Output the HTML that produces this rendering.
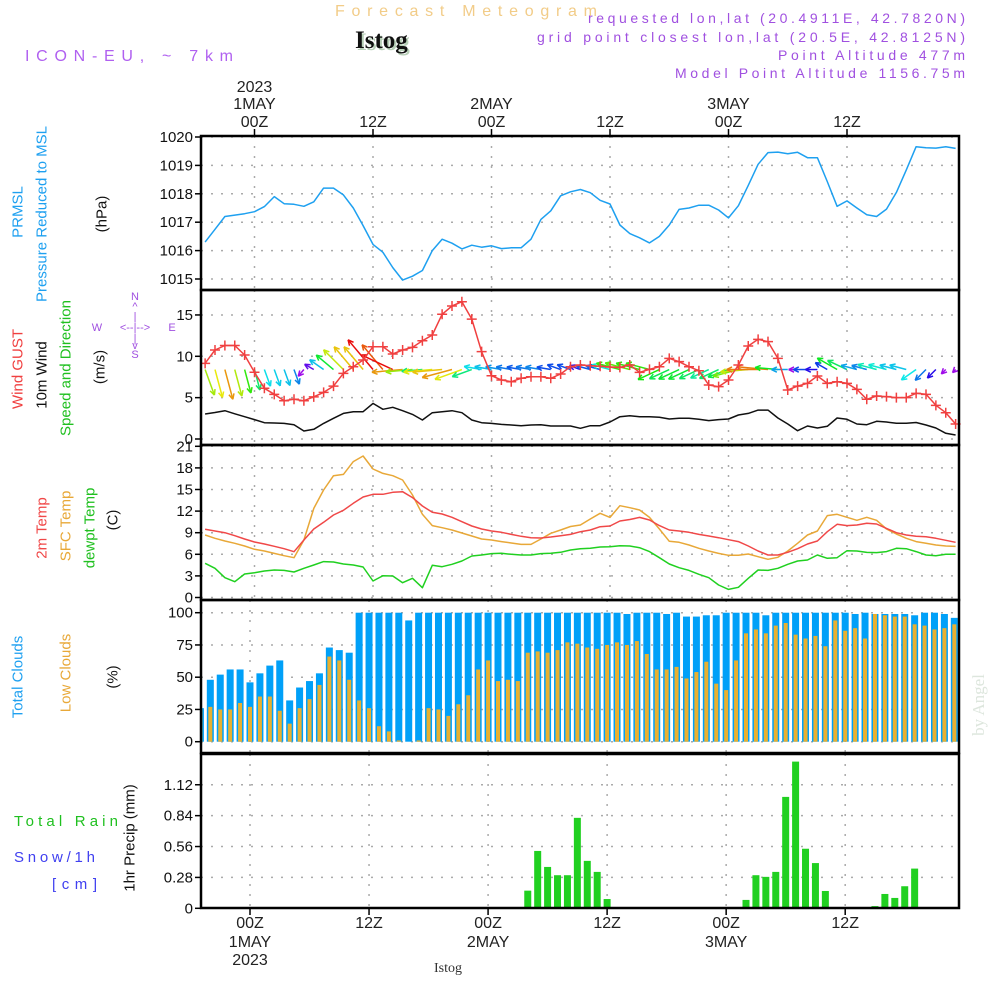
<!DOCTYPE html>
<html><head><meta charset="utf-8"><title>Forecast Meteogram Istog</title>
<style>
html,body{margin:0;padding:0;background:#fff;}
svg{display:block;font-family:"Liberation Sans",sans-serif;}
</style></head>
<body>
<svg id="chart" width="1000" height="1000" viewBox="0 0 1000 1000" xmlns="http://www.w3.org/2000/svg">
<rect x="0" y="0" width="1000" height="1000" fill="#fff"/>
<g id="header">
<text x="335" y="16" textLength="262" lengthAdjust="spacing" font-size="16" fill="#f2cc88">Forecast Meteogram</text>
<text x="357" y="50" font-family="Liberation Serif,serif" font-weight="bold" font-size="25" fill="#b8d0b8">Istog</text>
<text x="355" y="48" font-family="Liberation Serif,serif" font-weight="bold" font-size="25" fill="#111">Istog</text>
<text x="25" y="61" textLength="208" lengthAdjust="spacing" font-size="16" fill="#b060f0">ICON-EU, ~ 7km</text>
<text x="965" y="23" text-anchor="end" textLength="377" lengthAdjust="spacing" font-size="14" fill="#a050e0">requested lon,lat (20.4911E, 42.7820N)</text>
<text x="965" y="42" text-anchor="end" textLength="428" lengthAdjust="spacing" font-size="14" fill="#a050e0">grid point closest lon,lat (20.5E, 42.8125N)</text>
<text x="965" y="60" text-anchor="end" textLength="187" lengthAdjust="spacing" font-size="14" fill="#a050e0">Point Altitude 477m</text>
<text x="965" y="78" text-anchor="end" textLength="290" lengthAdjust="spacing" font-size="14" fill="#a050e0">Model Point Altitude 1156.75m</text>
</g>
<g id="grid"></g>
<g id="marks"></g>
<g id="frames"></g>
<g id="labels"></g>
</svg>
<script>
// ---- data (hour -5 .. 71 relative to 2023-05-01 00Z) ----
const hourStart = -5;
const pressure = [1016.3,1016.75,1017.2,1017.25,1017.3,1017.37,1017.55,1017.9,1017.65,1017.63,1017.56,1017.72,1018.2,1018.2,1017.96,1017.5,1016.88,1016.22,1015.94,1015.4,1014.96,1015.1,1015.3,1016.0,1016.4,1016.26,1016.06,1016.19,1016.12,1016.17,1016.07,1016.1,1016.1,1016.4,1017.1,1017.4,1017.93,1018.07,1018.15,1018.04,1017.77,1017.64,1016.9,1016.6,1016.45,1016.27,1016.5,1016.9,1017.45,1017.5,1017.6,1017.6,1017.43,1017.15,1017.58,1018.3,1019.04,1019.45,1019.47,1019.41,1019.46,1019.27,1019.27,1018.43,1017.56,1017.75,1017.5,1017.26,1017.2,1017.46,1018.05,1018.84,1019.66,1019.62,1019.61,1019.66,1019.6];
const windGust = [9.15,10.76,11.3,11.3,10.16,8.07,6.13,5.4,4.63,4.8,4.63,5.1,5.64,6.4,7.94,8.74,9.55,11.16,11.16,10.28,10.76,11.08,11.88,12.58,15.08,16.08,16.6,14.5,10.56,7.65,7.13,6.93,7.34,7.53,7.53,7.34,7.86,8.74,8.95,8.86,8.8,8.7,8.66,8.95,8.06,8.42,8.74,9.75,9.35,8.74,8.26,6.53,6.33,7.13,8.95,11.25,12.05,11.77,9.75,5.93,6.4,6.73,7.62,6.73,6.93,6.73,6.0,4.8,5.2,5.12,5.0,5.0,5.52,5.4,4.07,3.18,1.81];
const windSpeed = [3.02,3.2,3.42,3.05,2.7,2.35,1.97,1.93,1.89,1.73,0.97,1.17,1.89,2.5,3.1,3.3,3.3,4.31,3.59,3.83,3.42,2.98,2.3,3.18,3.3,3.42,3.18,2.3,1.97,1.89,1.77,1.69,1.61,1.69,1.73,1.57,1.57,1.57,1.29,1.61,1.61,2.06,2.7,2.82,2.7,2.7,2.62,2.42,2.5,2.5,2.38,2.22,2.34,2.42,2.9,3.1,3.5,3.5,2.54,1.81,1.0,1.57,1.33,1.53,2.54,2.38,1.81,1.73,2.14,2.06,1.9,1.9,2.0,1.69,1.33,0.69,0.48];
const windDir = [160,165,165,165,165,165,160,160,160,160,220,300,305,310,315,320,320,320,320,295,265,265,265,265,265,255,250,250,280,280,280,280,280,280,280,280,290,290,290,285,285,285,285,285,285,285,245,245,245,245,245,245,245,250,255,265,270,275,275,270,270,270,270,300,300,295,285,285,285,285,285,285,235,225,225,225,225];
const temp2m = [9.47,9.24,9.0,8.58,8.12,7.71,7.43,7.11,6.78,6.36,7.99,9.51,10.44,11.46,12.11,13.08,13.96,14.33,14.33,14.61,14.7,13.87,12.71,11.83,11.6,11.14,10.53,9.93,9.51,9.24,9.05,8.77,8.5,8.31,8.26,8.4,8.58,8.77,9.14,9.38,9.84,9.93,10.63,10.83,11.12,10.77,9.98,9.38,9.24,9.05,8.77,8.54,8.31,8.03,7.76,7.15,6.46,5.9,5.9,6.28,6.78,7.43,7.85,9.14,10.16,9.98,10.07,10.3,10.21,9.6,9.0,8.68,8.5,8.45,8.22,7.94,7.66];
const tempSfc = [8.68,8.22,7.85,7.53,7.15,6.69,6.46,6.13,5.81,5.53,7.99,12.38,14.93,16.92,17.1,18.87,19.65,17.85,17.24,16.92,16.32,14.24,11.55,9.98,9.7,9.38,8.96,8.54,8.12,7.99,7.76,7.57,7.38,7.38,8.12,8.91,9.38,9.86,10.07,10.9,11.69,11.12,12.75,12.47,12.15,11.12,9.51,7.8,7.66,7.29,6.83,6.46,6.13,5.86,5.86,6.04,5.67,5.3,5.58,6.46,7.53,8.68,9.24,11.37,11.55,11.14,10.72,11.14,10.72,9.51,8.82,8.22,7.76,7.53,7.29,7.15,7.1];
const tempDew = [4.75,4.05,2.75,2.2,3.26,3.45,3.68,3.82,3.77,3.54,4.05,4.51,4.98,4.93,4.65,4.51,4.24,2.29,3.03,2.99,2.06,2.66,1.36,4.47,4.28,4.61,5.07,5.76,5.9,6.1,6.14,6.0,5.9,5.9,6.1,6.14,6.28,6.6,6.78,6.83,7.01,7.06,7.2,7.15,6.92,6.37,5.53,4.65,4.14,3.77,3.22,2.75,1.74,1.13,1.41,2.66,3.82,3.77,4.05,4.61,5.07,5.21,5.9,5.44,5.53,6.5,6.46,6.27,6.23,6.37,6.83,6.78,6.37,5.9,5.81,6.0,6.0];
const totalClouds = [26,48,52,56,56,46,53,59,63,32,42,47,53,73,71,69,100,100,100,100,100,94,100,100,100,100,100,100,100,100,100,100,100,100,100,100,100,100,100,100,100,100,100,99,100,100,100,99,100,97,97,98,98,100,100,100,100,98,100,100,100,100,100,100,100,100,99,100,99,99,99,99,98,100,100,99,96];
const lowClouds = [25,27,25,25,30,27,35,35,24,14,26,33,44,66,63,48,32,26,12,8,1,0,1,26,25,20,29,36,56,63,47,48,47,69,70,69,71,77,76,73,72,75,77,75,78,68,56,56,58,49,54,62,45,40,63,84,87,84,90,92,83,80,82,74,94,86,88,80,99,98,97,97,91,90,87,88,91];
const precip = [0,0,0,0,0,0,0,0,0,0,0,0,0,0,0,0,0,0,0,0,0,0,0,0,0,0,0,0,0,0,0,0,0,0.16,0.52,0.375,0.30,0.30,0.82,0.43,0.33,0.084,0,0,0,0,0,0,0,0,0,0,0,0.01,0,0.076,0.30,0.285,0.33,1.01,1.33,0.54,0.41,0.157,0,0,0,0,0.02,0.13,0.094,0.2,0.36,0,0,0,0];
const pressTicks = [1020,1019,1018,1017,1016,1015];
const windTicks = [15,10,5,0];
const tempTicks = [21,18,15,12,9,6,3,0];
const cloudTicks = [100,75,50,25,0];
const precipTicks = [1.12,0.84,0.56,0.28,0];
const timeTicks = [0,12,24,36,48,60];
const timeTickLabels = ["00Z","12Z","00Z","12Z","00Z","12Z"];
const dayLabels = ["1MAY","","2MAY","","3MAY",""];

// ---- axis functions ----
const XL = 201, XR = 959;
const xu = h => 254.5 + h * 9.875;
const xl = h => 250 + h * 9.92;
const yP = p => 137 + (1020 - p) * 28.4;
const yW = v => 439 - v * 8.27;
const yT = t => 597.5 - t * 7.2;
const yC = c => 741.7 - c * 1.29;
const yR = r => 908.3 - r * 110.3;
const NS = "http://www.w3.org/2000/svg";
const G = document.getElementById('grid'), M = document.getElementById('marks'), F = document.getElementById('frames'), L = document.getElementById('labels');
function mk(tag, attrs, parent){ const e = document.createElementNS(NS, tag); for (const k in attrs) e.setAttribute(k, attrs[k]); parent.appendChild(e); return e; }
function txt(s, x, y, attrs, parent){ const e = mk('text', Object.assign({x:x, y:y}, attrs), parent); e.textContent = s; return e; }

const panels = [
  {name:'pressure', top:136, bot:290, ticks:pressTicks, y:yP, x:xu},
  {name:'wind', top:290, bot:445, ticks:windTicks, y:yW, x:xu},
  {name:'temperature', top:445, bot:600, ticks:tempTicks, y:yT, x:xu},
  {name:'clouds', top:600, bot:753, ticks:cloudTicks, y:yC, x:xl},
  {name:'precip', top:754, bot:908, ticks:precipTicks, y:yR, x:xl}
];
panels.forEach(p => {
  p.ticks.forEach(t => {
    const yy = p.y(t);
    const gl = mk('line', {x1:XL, x2:XR, y1:yy, y2:yy, stroke:'#aaa', 'stroke-width':1.5, 'stroke-dasharray':'2,8'}, G);
    
    
    const tk = mk('line', {x1:XL-6, x2:XL, y1:yy, y2:yy, stroke:'#000', 'stroke-width':1.5}, F);
    
    
    const lb = txt(String(t), XL-8, yy+5, {'text-anchor':'end', 'font-size':15, fill:'#111'}, L);
    
    
  });
  timeTicks.forEach(h => {
    const xx = p.x(h);
    const vl = mk('line', {x1:xx, x2:xx, y1:p.top, y2:p.bot, stroke:'#aaa', 'stroke-width':1.5, 'stroke-dasharray':'2,8'}, G);
    
    
  });
  const fr = mk('rect', {x:XL, y:p.top, width:XR-XL, height:p.bot-p.top, fill:'none', stroke:'#000', 'stroke-width':2.5}, F);
  
  
});

timeTicks.forEach((h, i) => {
  const xt = xu(h);
  const t1 = mk('line', {x1:xt, x2:xt, y1:129, y2:136, stroke:'#000', 'stroke-width':1.5}, F);
  
  
  const a = txt(timeTickLabels[i], xt, 127, {'text-anchor':'middle', 'font-size':16, fill:'#222'}, L);
  
  
  if (dayLabels[i]) {
    const d = txt(dayLabels[i], xt, 109, {'text-anchor':'middle', 'font-size':16, fill:'#222'}, L);
    
    
  }
  const xb = xl(h);
  const t2 = mk('line', {x1:xb, x2:xb, y1:908, y2:915, stroke:'#000', 'stroke-width':1.5}, F);
  
  
  const b = txt(timeTickLabels[i], xb, 928, {'text-anchor':'middle', 'font-size':16, fill:'#222'}, L);
  
  
  if (dayLabels[i]) {
    const d2 = txt(dayLabels[i], xb, 947, {'text-anchor':'middle', 'font-size':16, fill:'#222'}, L);
    
    
  }
});
const yr1 = txt('2023', xu(0), 92, {'text-anchor':'middle', 'font-size':16, fill:'#222'}, L);


const yr2 = txt('2023', xl(0), 965, {'text-anchor':'middle', 'font-size':16, fill:'#222'}, L);



function line(arr, xf, yf, color, name){
  const pts = arr.map((v, i) => xf(hourStart + i).toFixed(1) + ',' + yf(v).toFixed(1)).join(' ');
  const pl = mk('polyline', {points:pts, fill:'none', stroke:color, 'stroke-width':1.5, 'stroke-linejoin':'round'}, M);
  
  
}

totalClouds.forEach((v, i) => {
  const x = xl(hourStart + i);
  const x0 = Math.max(XL, x - 3.5), x1 = Math.min(XR, x + 3.5);
  const r = mk('rect', {x:x0, y:yC(v), width:Math.max(0, x1 - x0), height:yC(0) - yC(v), fill:'#00a0f8'}, M);
  
  
});
lowClouds.forEach((v, i) => {
  const x = xl(hourStart + i);
  const x0 = Math.max(XL, x - 2), x1 = Math.min(XR, x + 2);
  const r = mk('rect', {x:x0, y:yC(v), width:Math.max(0, x1 - x0), height:yC(0) - yC(v), fill:'#e8b030'}, M);
  
  
});
precip.forEach((v, i) => {
  if (v <= 0) return;
  const x = xl(hourStart + i);
  const r = mk('rect', {x:x - 3.5, y:yR(v), width:7, height:yR(0) - yR(v), fill:'#20d020'}, M);
  
  
});

line(pressure, xu, yP, '#1ea0f0', 'pressure-line');
line(windSpeed, xu, yW, '#111', 'wind-speed-line');
line(tempDew, xu, yT, '#20d020', 'dewpoint-line');
line(tempSfc, xu, yT, '#e8a838', 'sfc-temp-line');
line(temp2m, xu, yT, '#f04848', 'temp-2m-line');

const arrowBaseY = yW(8.4);
windSpeed.forEach((s, i) => {
  const x = xu(hourStart + i);
  const a = windDir[i] * Math.PI / 180;
  const len = 9 * s;
  const dx = Math.sin(a) * len, dy = -Math.cos(a) * len;
  const hx = x + dx, hy = arrowBaseY + dy;
  const hue = Math.max(0, Math.min(280, 280 - (s - 1) * 100));
  const col = 'hsl(' + hue.toFixed(0) + ',90%,48%)';
  const g = mk('g', {stroke:col, 'stroke-width':1.5, fill:'none'}, M);
  
  
  mk('line', {x1:x, y1:arrowBaseY, x2:hx, y2:hy}, g);
  const ang = Math.atan2(dy, dx);
  [0.45, -0.45].forEach(o => {
    mk('line', {x1:hx, y1:hy, x2:hx - 6 * Math.cos(ang + o), y2:hy - 6 * Math.sin(ang + o)}, g);
  });
});

line(windGust, xu, yW, '#f04040', 'wind-gust-line');
windGust.forEach((v, i) => {
  const x = xu(hourStart + i), y = yW(v);
  const g = mk('path', {d:'M' + (x - 5) + ' ' + y + 'H' + (x + 5) + 'M' + x + ' ' + (y - 5) + 'V' + (y + 5), stroke:'#f04040', 'stroke-width':1.5}, M);
  
  
});

const rot = [
  ['PRMSL', 18, 212, '#1ea0f0', 'pressure-short-title'],
  ['Pressure  Reduced  to  MSL', 42, 214, '#1ea0f0', 'pressure-title'],
  ['(hPa)', 102, 214, '#111', 'pressure-unit'],
  ['Wind GUST', 18, 369, '#f04040', 'gust-title'],
  ['10m Wind', 42, 375, '#111', 'wind-title'],
  ['Speed and Direction', 66, 368, '#20c020', 'wind-direction-title'],
  ['(m/s)', 100, 367, '#111', 'wind-unit'],
  ['2m Temp', 42, 528, '#f04848', 'temp-2m-title'],
  ['SFC Temp', 66, 526, '#e8a838', 'sfc-temp-title'],
  ['dewpt Temp', 90, 528, '#20c020', 'dewpoint-title'],
  ['(C)', 113, 520, '#111', 'temp-unit'],
  ['Total  Clouds', 18, 677, '#1ea0f0', 'total-clouds-title'],
  ['Low  Clouds', 66, 673, '#e8a838', 'low-clouds-title'],
  ['(%)', 113, 677, '#111', 'cloud-unit'],
  ['1hr Precip (mm)', 130, 838, '#111', 'precip-title']
];
rot.forEach(r => {
  const t = txt(r[0], 0, 0, {'text-anchor':'middle', 'dominant-baseline':'central', 'font-size':15, fill:r[3], transform:'translate(' + r[1] + ',' + r[2] + ') rotate(-90)', 'xml:space':'preserve'}, L);
  
  
});
const hor = [
  ['Total  Rain', 14, 826, '#20c020', 104, 'rain-legend'],
  ['Snow/1h', 14, 862, '#4040f0', 81, 'snow-legend'],
  ['[cm]', 52, 889, '#4040f0', 45, 'snow-unit']
];
hor.forEach(r => {
  const t = txt(r[0], r[1], r[2], {'font-size':15, fill:r[3], textLength:r[4], lengthAdjust:'spacing', 'xml:space':'preserve'}, L);
  
  
});
const comp = [['N',135,300],['^',135,310],['|',135,320],['W',97,331],['<--|-->',135,331],['E',172,331],['|',135,342],['v',135,349],['S',135,358]];
comp.forEach(c => {
  const t = txt(c[0], c[1], c[2], {'text-anchor':'middle', 'font-size':11, fill:'#a050e0'}, L);
  
  
});
const ist = txt('Istog', 448, 972, {'text-anchor':'middle', 'font-size':14, fill:'#333', 'font-family':'Liberation Serif,serif'}, L);


const ang = txt('by Angel', 0, 0, {'text-anchor':'middle', 'font-size':17, fill:'#dde6dd', 'font-family':'Liberation Serif,serif', transform:'translate(984,705) rotate(-90)'}, L);


</script>
</body></html>
